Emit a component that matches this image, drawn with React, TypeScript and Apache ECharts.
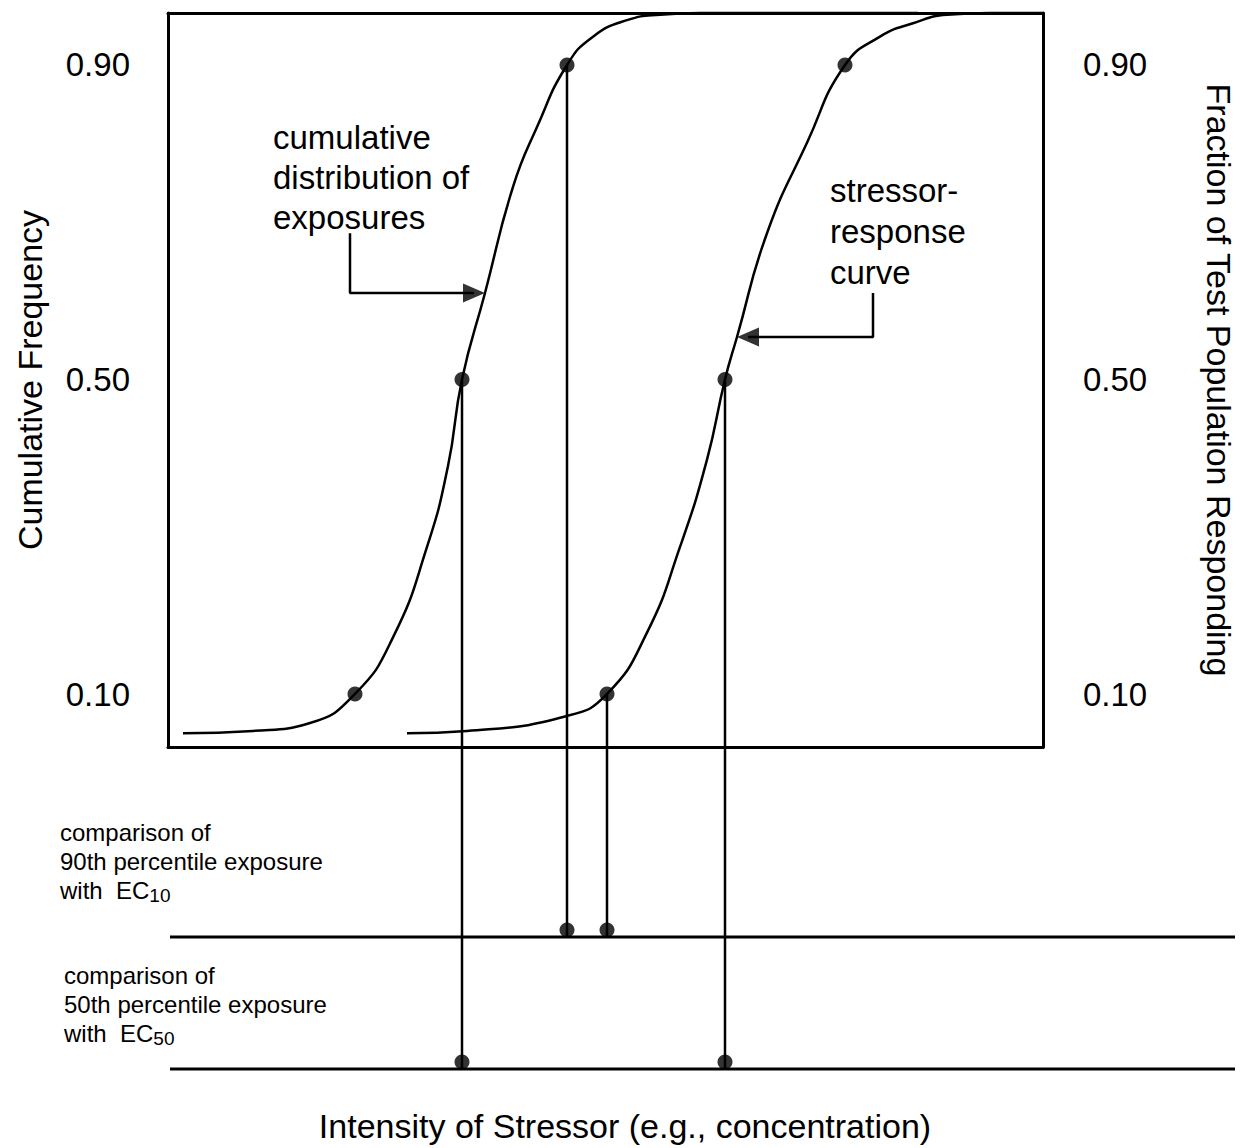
import React, { useEffect, useRef } from "react";
import * as echarts from "echarts";

const FONT = '"Liberation Sans", Arial, Helvetica, sans-serif';

// Cumulative distribution of exposures (x: intensity, y: cumulative frequency)
const cdfX = [0.15, 0.85, 1.42, 1.87, 2.25, 2.59, 2.8, 2.94, 3.17, 3.45, 3.69, 3.99, 4.25, 4.59, 4.92, 5.32, 7.5];
const cdfY = [0.05, 0.053, 0.063, 0.1, 0.172, 0.287, 0.39, 0.5, 0.61, 0.745, 0.821, 0.9, 0.936, 0.957, 0.964, 0.966, 0.966];

// Stressor-response curve (x: intensity, y: fraction responding)
const srX = [2.39, 2.99, 3.99, 4.39, 4.79, 5.12, 5.39, 5.57, 5.69, 5.99, 6.39, 6.77, 7.12, 7.45, 7.79, 8.22, 8.75];
const srY = [0.05, 0.053, 0.072, 0.1, 0.178, 0.287, 0.398, 0.5, 0.554, 0.686, 0.801, 0.9, 0.936, 0.953, 0.964, 0.966, 0.966];

// Marked percentiles
const percentiles = [0.1, 0.5, 0.9];
const cdfPointX = [1.87, 2.94, 3.99];
const srPointX = [4.39, 5.57, 6.77];

// Comparison baselines (below the plot)
const ec10Level = -0.209;
const ec50Level = -0.377;
const levelXRange = [0.02, 10.67];

// Drop lines: [x, from value, to level]
const drops: [number, number, number][] = [
  [cdfPointX[1], percentiles[1], ec50Level],
  [cdfPointX[2], percentiles[2], ec10Level],
  [srPointX[0], percentiles[0], ec10Level],
  [srPointX[1], percentiles[1], ec50Level],
];

// Annotation arrows (shaft polyline; last point carries the head)
const arrowCdfX = [1.82, 1.82, 3.06];
const arrowCdfY = [0.686, 0.61, 0.61];
const arrowSrX = [7.05, 7.05, 5.8];
const arrowSrY = [0.61, 0.554, 0.554];

const tickValues = [0.1, 0.5, 0.9];

const Y_MIN_BOX = 0.0326;
const Y_MAX = 0.9661;
const Y_MIN_ALL = -0.377;

export default function App() {
  const ref = useRef<HTMLDivElement>(null);

  useEffect(() => {
    if (!ref.current) return;
    const chart = echarts.init(ref.current, null, { renderer: "svg" });

    const black = "#000";
    const lineBase = { type: "line", xAxisIndex: 2, yAxisIndex: 2, symbol: "none", clip: false, silent: true };

    const series: any[] = [];
    series.push({
      ...lineBase,
      name: "cumulative distribution of exposures",
      data: cdfX.map((x, i) => [x, cdfY[i]]),
      smooth: 0.5,
      lineStyle: { color: black, width: 2.5 },
    });
    series.push({
      ...lineBase,
      name: "stressor-response curve",
      data: srX.map((x, i) => [x, srY[i]]),
      smooth: 0.5,
      lineStyle: { color: black, width: 2.5 },
    });
    // comparison lines
    [ec10Level, ec50Level].forEach((lv) => {
      series.push({
        ...lineBase,
        data: levelXRange.map((x) => [x, lv]),
        lineStyle: { color: black, width: 3 },
      });
    });
    // drop lines
    drops.forEach(([x, from, to]) => {
      series.push({
        ...lineBase,
        data: [[x, from], [x, to]],
        lineStyle: { color: black, width: 2.5 },
      });
    });
    // arrows
    series.push({
      ...lineBase,
      data: arrowCdfX.map((x, i) => [x, arrowCdfY[i]]),
      lineStyle: { color: black, width: 2.5 },
    });
    series.push({
      ...lineBase,
      data: arrowSrX.map((x, i) => [x, arrowSrY[i]]),
      lineStyle: { color: black, width: 2.5 },
    });
    series.push({
      type: "scatter",
      xAxisIndex: 2,
      yAxisIndex: 2,
      clip: false,
      silent: true,
      symbol: "triangle",
      symbolSize: [19, 22],
      itemStyle: { color: black },
      data: [
        { value: [arrowCdfX[2], arrowCdfY[2]], symbolRotate: -90 },
        { value: [arrowSrX[2], arrowSrY[2]], symbolRotate: 90 },
      ],
    });
    // percentile points on curves
    series.push({
      type: "scatter",
      xAxisIndex: 2,
      yAxisIndex: 2,
      clip: false,
      silent: true,
      symbol: "circle",
      symbolSize: 15,
      itemStyle: { color: black },
      data: [
        ...cdfPointX.map((x, i) => [x, percentiles[i]]),
        ...srPointX.map((x, i) => [x, percentiles[i]]),
      ],
    });
    // dots on comparison lines
    series.push({
      type: "scatter",
      xAxisIndex: 2,
      yAxisIndex: 2,
      clip: false,
      silent: true,
      symbol: "circle",
      symbolSize: 15,
      symbolOffset: [0, -7],
      itemStyle: { color: black },
      data: drops.map(([x, , to]) => [x, to]),
    });

    const tickLabel = {
      customValues: tickValues,
      formatter: (v: number) => v.toFixed(2),
      fontSize: 33,
      color: black,
      fontFamily: FONT,
    };
    const axisLine = { show: true, onZero: false, lineStyle: { color: black, width: 3 } };

    const textStyle = (size: number, lh: number) => ({
      fontSize: size,
      lineHeight: lh,
      fontFamily: FONT,
      fill: black,
      textAlign: "left",
      align: "left",
      textVerticalAlign: "middle",
      verticalAlign: "middle",
    });
    const subRich = {
      sub: { fontSize: 19, lineHeight: 13, verticalAlign: "bottom", fontFamily: FONT, fill: black, color: black },
    };

    chart.setOption({
      animation: false,
      backgroundColor: "#fff",
      grid: [
        { left: 168, top: 13, width: 875, height: 734, outerBoundsMode: "none", containLabel: false },
        { left: 168, top: 13, width: 1067, height: 1056, outerBoundsMode: "none", containLabel: false },
      ],
      xAxis: [
        { type: "value", gridIndex: 0, min: 0, max: 8.75, position: "bottom", axisLine, axisTick: { show: false }, axisLabel: { show: false }, splitLine: { show: false } },
        { type: "value", gridIndex: 0, min: 0, max: 8.75, position: "top", axisLine, axisTick: { show: false }, axisLabel: { show: false }, splitLine: { show: false } },
        { type: "value", gridIndex: 1, min: 0, max: 10.67, show: false },
      ],
      yAxis: [
        {
          type: "value", gridIndex: 0, min: Y_MIN_BOX, max: Y_MAX, position: "left",
          axisLine, axisTick: { show: false }, splitLine: { show: false },
          axisLabel: { ...tickLabel, margin: 38 },
          name: "Cumulative Frequency", nameLocation: "middle", nameGap: 121,
          nameTextStyle: { fontSize: 34, color: black, fontFamily: FONT },
        },
        {
          type: "value", gridIndex: 0, min: Y_MIN_BOX, max: Y_MAX, position: "right",
          axisLine, axisTick: { show: false }, splitLine: { show: false },
          axisLabel: { ...tickLabel, margin: 40 },
          name: "Fraction of Test Population Responding", nameLocation: "middle", nameGap: 159, nameRotate: -90,
          nameTextStyle: { fontSize: 34, color: black, fontFamily: FONT },
        },
        { type: "value", gridIndex: 1, min: Y_MIN_ALL, max: Y_MAX, show: false },
      ],
      graphic: [
        { type: "text", x: 273, y: 177, silent: true, style: { text: "cumulative\ndistribution of\nexposures", ...textStyle(33, 40) } },
        { type: "text", x: 830, y: 231, silent: true, style: { text: "stressor-\nresponse\ncurve", ...textStyle(33, 41) } },
        { type: "text", x: 60, y: 861, silent: true, style: { text: "comparison of\n90th percentile exposure\nwith  EC{sub|10}", ...textStyle(24, 29), rich: subRich } },
        { type: "text", x: 64, y: 1004, silent: true, style: { text: "comparison of\n50th percentile exposure\nwith  EC{sub|50}", ...textStyle(24, 29), rich: subRich } },
        { type: "text", x: 625, y: 1126, silent: true, style: { text: "Intensity of Stressor (e.g., concentration)", ...textStyle(34, 40), textAlign: "center", align: "center" } },
      ],
      series,
    });

    return () => chart.dispose();
  }, []);

  return (
    <div
      ref={ref}
      style={{ position: "absolute", left: 0, top: 0, width: 1242, height: 1148, background: "#fff" }}
    />
  );
}
